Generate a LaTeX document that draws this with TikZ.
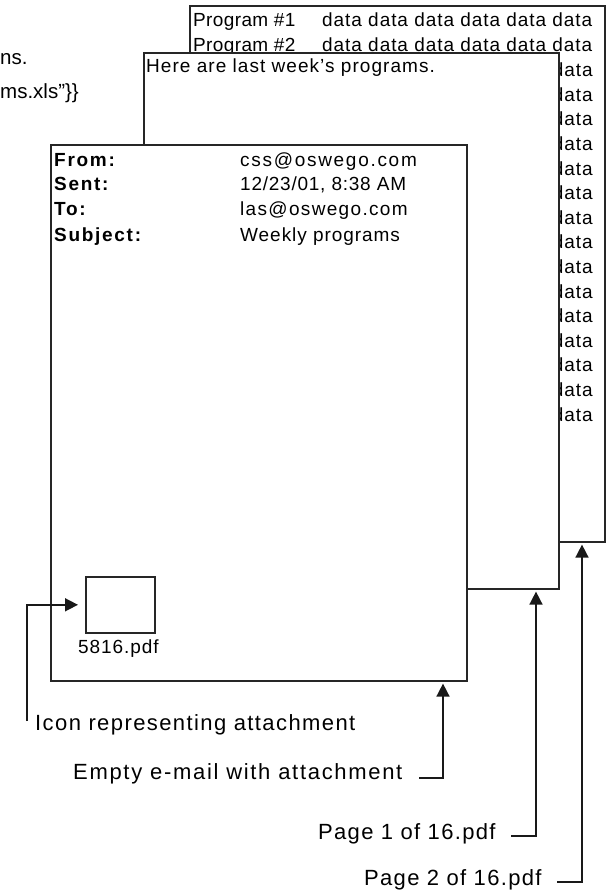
\documentclass[tikz,border=0pt]{standalone}
\usepackage{fontspec}
\setmainfont{Liberation Sans}
\usetikzlibrary{arrows.meta}

\tikzset{
  page/.style={draw=black!85, line width=1.6pt, fill=white, anchor=north west, inner sep=0pt},
  pagetext/.style={anchor=base west, inner sep=0pt, font=\fontsize{19}{21}\selectfont\addfontfeature{LetterSpace=#1}},
  pagetext/.default=5,
  boldtext/.style={anchor=base west, inner sep=0pt, font=\fontsize{19}{21}\selectfont\bfseries\addfontfeature{LetterSpace=9}},
  lastdata/.style={anchor=base east, inner sep=0pt, font=\fontsize{19}{21}\selectfont\addfontfeature{LetterSpace=5}},
  caption/.style={anchor=base west, inner sep=0pt, font=\fontsize{22}{24}\selectfont\addfontfeature{LetterSpace=#1}},
  caption/.default=6,
  cuttext/.style={anchor=base west, inner sep=0pt, font=\fontsize{20.5}{23}\selectfont},
  pointer/.style={draw=black!90, line width=1.6pt, -{Triangle[length=13pt, width=13pt]}},
}

\begin{document}
\begin{tikzpicture}[x=1pt, y=-1pt]
  \useasboundingbox (0,0) rectangle (608,892);

  % cut-off text on the left
  \node[cuttext] (cutone) at (0,64) {ns.};
  \node[cuttext] (cuttwo) at (0,98) {ms.xls”\}\}};

  % second page of the pdf
  \node[page, minimum width=415pt, minimum height=536pt] (pagetwo) at (189,5) {};
  \node[pagetext=2] (progone) at (193,26) {Program \#1};
  \node[pagetext=2] (progtwo) at (193,51) {Program \#2};
  \node[pagetext] (rowa) at (322,26) {data data data data data data};
  \node[pagetext] (rowb) at (322,51) {data data data data data data};
  \node[lastdata] (rowc) at (593,76) {data};
  \node[lastdata] (rowd) at (593,101) {data};
  \node[lastdata] (rowe) at (593,125) {data};
  \node[lastdata] (rowf) at (593,150) {data};
  \node[lastdata] (rowg) at (593,175) {data};
  \node[lastdata] (rowh) at (593,199) {data};
  \node[lastdata] (rowi) at (593,224) {data};
  \node[lastdata] (rowj) at (593,248) {data};
  \node[lastdata] (rowk) at (593,273) {data};
  \node[lastdata] (rowl) at (593,298) {data};
  \node[lastdata] (rowm) at (593,322) {data};
  \node[lastdata] (rown) at (593,347) {data};
  \node[lastdata] (rowo) at (593,371) {data};
  \node[lastdata] (rowp) at (593,396) {data};
  \node[lastdata] (rowq) at (593,421) {data};

  % first page of the pdf
  \node[page, minimum width=415pt, minimum height=536pt] (pageone) at (143,52) {};
  \node[pagetext=5.5] (bodytext) at (146,72) {Here are last week's programs.};

  % e-mail
  \node[page, minimum width=416pt, minimum height=536pt] (email) at (50,144) {};
  \node[boldtext] (fromkey) at (54,166) {From:};
  \node[boldtext] (sentkey) at (54,190) {Sent:};
  \node[boldtext] (tokey) at (54,215) {To:};
  \node[boldtext] (subjectkey) at (54,241) {Subject:};
  \node[pagetext=9] (fromval) at (240,166) {css@oswego.com};
  \node[pagetext=4] (sentval) at (240,190) {12/23/01, 8:38 AM};
  \node[pagetext=7] (toval) at (240,215) {las@oswego.com};
  \node[pagetext=5] (subjectval) at (240,241) {Weekly programs};
  \node[page, minimum width=69pt, minimum height=56pt] (icon) at (85,576) {};
  \node[pagetext=5] (iconname) at (78,653) {5816.pdf};

  % captions
  \node[caption=6.4] (iconcap) at (35,730) {Icon representing attachment};
  \node[caption=7.7] (emptycap) at (73,779) {Empty e-mail with attachment};
  \node[caption] (onecap) at (318,839) {Page 1 of 16.pdf};
  \node[caption] (twocap) at (364,885) {Page 2 of 16.pdf};

  \coordinate (iconfoot) at (27,721);
  \coordinate (emptyfoot) at (419,778);
  \coordinate (onefoot) at (511,836);
  \coordinate (twofoot) at (557,882);

  \draw[pointer, shorten >=7pt] (iconfoot) |- (icon.west);
  \draw[pointer, shorten >=2pt] (emptyfoot) -| (email.south -| 443,0);
  \draw[pointer, shorten >=2pt] (onefoot) -| (pageone.south -| 536,0);
  \draw[pointer, shorten >=2pt] (twofoot) -| (pagetwo.south -| 582,0);
\end{tikzpicture}
\end{document}
